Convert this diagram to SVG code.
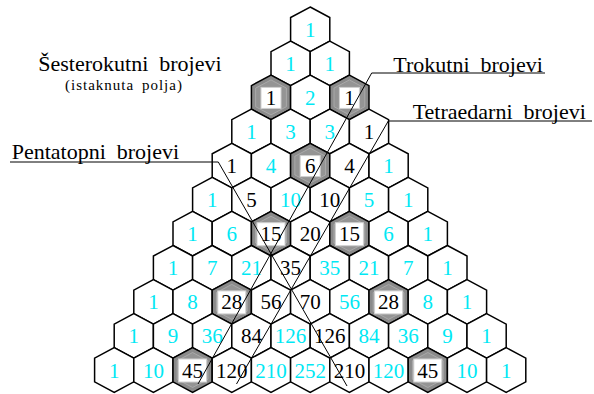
<svg xmlns="http://www.w3.org/2000/svg" xmlns:xlink="http://www.w3.org/1999/xlink" width="594" height="394" viewBox="0 0 594 394">
<style>
.h{fill:#fff;stroke:#000;stroke-width:1.5}
.gh{fill:#8a8a8a;stroke:#000;stroke-width:1.5}
.gi{fill:#949494;stroke:#b0b0b0;stroke-width:0.8}
.wr{fill:#fff;stroke:#d0d0d0;stroke-width:1}
.n{font-family:"Liberation Serif","Times New Roman",serif;font-size:21px;text-anchor:middle}
.c{fill:#00e8f4}
.k{fill:#000}
.lbl{font-family:"Liberation Serif","Times New Roman",serif;font-size:22px;fill:#000;word-spacing:5.5px}
.sub{font-family:"Liberation Serif","Times New Roman",serif;font-size:15px;fill:#000;letter-spacing:1px;word-spacing:3px}
.ld{fill:none;stroke:#000;stroke-width:1}
</style>
<defs>
<path id="hx" d="M0,-22.3L19.6,-11.8L19.6,11.8L0,22.3L-19.6,11.8L-19.6,-11.8Z"/>
<path id="hi" d="M0,-17.5L15.4,-9.3L15.4,9.3L0,17.5L-15.4,9.3L-15.4,-9.3Z"/>
</defs>
<g id="labels">
<text class="lbl" x="38.3" y="71">Šesterokutni brojevi</text>
<text class="sub" x="65" y="90">(istaknuta polja)</text>
<text class="lbl" x="11.7" y="158.5">Pentatopni brojevi</text>
<text class="lbl" x="393.3" y="71.5">Trokutni brojevi</text>
<text class="lbl" x="412.7" y="119">Tetraedarni brojevi</text>
</g>
<g id="nodes">
<g id="n0-0"><use href="#hx" class="h" x="310.2" y="29.3"/><text class="n c" x="310.2" y="36.8">1</text></g>
<g id="n1-0"><use href="#hx" class="h" x="290.6" y="63.4"/><text class="n c" x="290.6" y="70.9">1</text></g>
<g id="n1-1"><use href="#hx" class="h" x="329.8" y="63.4"/><text class="n c" x="329.8" y="70.9">1</text></g>
<g id="n2-0"><use href="#hx" class="gh" x="271.0" y="97.4"/><use href="#hi" class="gi" x="271.0" y="97.4"/><rect class="wr" x="261" y="87.4" width="20" height="21"/><text class="n k" x="271.0" y="104.9">1</text></g>
<g id="n2-1"><use href="#hx" class="h" x="310.2" y="97.4"/><text class="n c" x="310.2" y="104.9">2</text></g>
<g id="n2-2"><use href="#hx" class="gh" x="349.4" y="97.4"/><use href="#hi" class="gi" x="349.4" y="97.4"/><rect class="wr" x="339.4" y="87.4" width="20" height="21"/><text class="n k" x="349.4" y="104.9">1</text></g>
<g id="n3-0"><use href="#hx" class="h" x="251.4" y="131.5"/><text class="n c" x="251.4" y="139.0">1</text></g>
<g id="n3-1"><use href="#hx" class="h" x="290.6" y="131.5"/><text class="n c" x="290.6" y="139.0">3</text></g>
<g id="n3-2"><use href="#hx" class="h" x="329.8" y="131.5"/><text class="n c" x="329.8" y="139.0">3</text></g>
<g id="n3-3"><use href="#hx" class="h" x="369.0" y="131.5"/><text class="n k" x="369.0" y="139.0">1</text></g>
<g id="n4-0"><use href="#hx" class="h" x="231.8" y="165.6"/><text class="n k" x="231.8" y="173.1">1</text></g>
<g id="n4-1"><use href="#hx" class="h" x="271.0" y="165.6"/><text class="n c" x="271.0" y="173.1">4</text></g>
<g id="n4-2"><use href="#hx" class="gh" x="310.2" y="165.6"/><use href="#hi" class="gi" x="310.2" y="165.6"/><rect class="wr" x="300.2" y="155.6" width="20" height="21"/><text class="n k" x="310.2" y="173.1">6</text></g>
<g id="n4-3"><use href="#hx" class="h" x="349.4" y="165.6"/><text class="n k" x="349.4" y="173.1">4</text></g>
<g id="n4-4"><use href="#hx" class="h" x="388.6" y="165.6"/><text class="n c" x="388.6" y="173.1">1</text></g>
<g id="n5-0"><use href="#hx" class="h" x="212.2" y="199.7"/><text class="n c" x="212.2" y="207.2">1</text></g>
<g id="n5-1"><use href="#hx" class="h" x="251.4" y="199.7"/><text class="n k" x="251.4" y="207.2">5</text></g>
<g id="n5-2"><use href="#hx" class="h" x="290.6" y="199.7"/><text class="n c" x="290.6" y="207.2">10</text></g>
<g id="n5-3"><use href="#hx" class="h" x="329.8" y="199.7"/><text class="n k" x="329.8" y="207.2">10</text></g>
<g id="n5-4"><use href="#hx" class="h" x="369.0" y="199.7"/><text class="n c" x="369.0" y="207.2">5</text></g>
<g id="n5-5"><use href="#hx" class="h" x="408.2" y="199.7"/><text class="n c" x="408.2" y="207.2">1</text></g>
<g id="n6-0"><use href="#hx" class="h" x="192.6" y="233.7"/><text class="n c" x="192.6" y="241.2">1</text></g>
<g id="n6-1"><use href="#hx" class="h" x="231.8" y="233.7"/><text class="n c" x="231.8" y="241.2">6</text></g>
<g id="n6-2"><use href="#hx" class="gh" x="271.0" y="233.7"/><use href="#hi" class="gi" x="271.0" y="233.7"/><rect class="wr" x="257" y="222.7" width="28" height="23"/><text class="n k" x="271.0" y="241.2">15</text></g>
<g id="n6-3"><use href="#hx" class="h" x="310.2" y="233.7"/><text class="n k" x="310.2" y="241.2">20</text></g>
<g id="n6-4"><use href="#hx" class="gh" x="349.4" y="233.7"/><use href="#hi" class="gi" x="349.4" y="233.7"/><rect class="wr" x="335.4" y="222.7" width="28" height="23"/><text class="n k" x="349.4" y="241.2">15</text></g>
<g id="n6-5"><use href="#hx" class="h" x="388.6" y="233.7"/><text class="n c" x="388.6" y="241.2">6</text></g>
<g id="n6-6"><use href="#hx" class="h" x="427.8" y="233.7"/><text class="n c" x="427.8" y="241.2">1</text></g>
<g id="n7-0"><use href="#hx" class="h" x="173.0" y="267.8"/><text class="n c" x="173.0" y="275.3">1</text></g>
<g id="n7-1"><use href="#hx" class="h" x="212.2" y="267.8"/><text class="n c" x="212.2" y="275.3">7</text></g>
<g id="n7-2"><use href="#hx" class="h" x="251.4" y="267.8"/><text class="n c" x="251.4" y="275.3">21</text></g>
<g id="n7-3"><use href="#hx" class="h" x="290.6" y="267.8"/><text class="n k" x="290.6" y="275.3">35</text></g>
<g id="n7-4"><use href="#hx" class="h" x="329.8" y="267.8"/><text class="n c" x="329.8" y="275.3">35</text></g>
<g id="n7-5"><use href="#hx" class="h" x="369.0" y="267.8"/><text class="n c" x="369.0" y="275.3">21</text></g>
<g id="n7-6"><use href="#hx" class="h" x="408.2" y="267.8"/><text class="n c" x="408.2" y="275.3">7</text></g>
<g id="n7-7"><use href="#hx" class="h" x="447.4" y="267.8"/><text class="n c" x="447.4" y="275.3">1</text></g>
<g id="n8-0"><use href="#hx" class="h" x="153.4" y="301.9"/><text class="n c" x="153.4" y="309.4">1</text></g>
<g id="n8-1"><use href="#hx" class="h" x="192.6" y="301.9"/><text class="n c" x="192.6" y="309.4">8</text></g>
<g id="n8-2"><use href="#hx" class="gh" x="231.8" y="301.9"/><use href="#hi" class="gi" x="231.8" y="301.9"/><rect class="wr" x="217.8" y="290.9" width="28" height="23"/><text class="n k" x="231.8" y="309.4">28</text></g>
<g id="n8-3"><use href="#hx" class="h" x="271.0" y="301.9"/><text class="n k" x="271.0" y="309.4">56</text></g>
<g id="n8-4"><use href="#hx" class="h" x="310.2" y="301.9"/><text class="n k" x="310.2" y="309.4">70</text></g>
<g id="n8-5"><use href="#hx" class="h" x="349.4" y="301.9"/><text class="n c" x="349.4" y="309.4">56</text></g>
<g id="n8-6"><use href="#hx" class="gh" x="388.6" y="301.9"/><use href="#hi" class="gi" x="388.6" y="301.9"/><rect class="wr" x="374.6" y="290.9" width="28" height="23"/><text class="n k" x="388.6" y="309.4">28</text></g>
<g id="n8-7"><use href="#hx" class="h" x="427.8" y="301.9"/><text class="n c" x="427.8" y="309.4">8</text></g>
<g id="n8-8"><use href="#hx" class="h" x="467.0" y="301.9"/><text class="n c" x="467.0" y="309.4">1</text></g>
<g id="n9-0"><use href="#hx" class="h" x="133.8" y="335.9"/><text class="n c" x="133.8" y="343.4">1</text></g>
<g id="n9-1"><use href="#hx" class="h" x="173.0" y="335.9"/><text class="n c" x="173.0" y="343.4">9</text></g>
<g id="n9-2"><use href="#hx" class="h" x="212.2" y="335.9"/><text class="n c" x="212.2" y="343.4">36</text></g>
<g id="n9-3"><use href="#hx" class="h" x="251.4" y="335.9"/><text class="n k" x="251.4" y="343.4">84</text></g>
<g id="n9-4"><use href="#hx" class="h" x="290.6" y="335.9"/><text class="n c" x="290.6" y="343.4">126</text></g>
<g id="n9-5"><use href="#hx" class="h" x="329.8" y="335.9"/><text class="n k" x="329.8" y="343.4">126</text></g>
<g id="n9-6"><use href="#hx" class="h" x="369.0" y="335.9"/><text class="n c" x="369.0" y="343.4">84</text></g>
<g id="n9-7"><use href="#hx" class="h" x="408.2" y="335.9"/><text class="n c" x="408.2" y="343.4">36</text></g>
<g id="n9-8"><use href="#hx" class="h" x="447.4" y="335.9"/><text class="n c" x="447.4" y="343.4">9</text></g>
<g id="n9-9"><use href="#hx" class="h" x="486.6" y="335.9"/><text class="n c" x="486.6" y="343.4">1</text></g>
<g id="n10-0"><use href="#hx" class="h" x="114.2" y="370.0"/><text class="n c" x="114.2" y="377.5">1</text></g>
<g id="n10-1"><use href="#hx" class="h" x="153.4" y="370.0"/><text class="n c" x="153.4" y="377.5">10</text></g>
<g id="n10-2"><use href="#hx" class="gh" x="192.6" y="370.0"/><use href="#hi" class="gi" x="192.6" y="370.0"/><rect class="wr" x="178.6" y="359" width="28" height="23"/><text class="n k" x="192.6" y="377.5">45</text></g>
<g id="n10-3"><use href="#hx" class="h" x="231.8" y="370.0"/><text class="n k" x="231.8" y="377.5">120</text></g>
<g id="n10-4"><use href="#hx" class="h" x="271.0" y="370.0"/><text class="n c" x="271.0" y="377.5">210</text></g>
<g id="n10-5"><use href="#hx" class="h" x="310.2" y="370.0"/><text class="n c" x="310.2" y="377.5">252</text></g>
<g id="n10-6"><use href="#hx" class="h" x="349.4" y="370.0"/><text class="n k" x="349.4" y="377.5">210</text></g>
<g id="n10-7"><use href="#hx" class="h" x="388.6" y="370.0"/><text class="n c" x="388.6" y="377.5">120</text></g>
<g id="n10-8"><use href="#hx" class="gh" x="427.8" y="370.0"/><use href="#hi" class="gi" x="427.8" y="370.0"/><rect class="wr" x="413.8" y="359" width="28" height="23"/><text class="n k" x="427.8" y="377.5">45</text></g>
<g id="n10-9"><use href="#hx" class="h" x="467.0" y="370.0"/><text class="n c" x="467.0" y="377.5">10</text></g>
<g id="n10-10"><use href="#hx" class="h" x="506.2" y="370.0"/><text class="n c" x="506.2" y="377.5">1</text></g>
</g>
<g id="connectors">
<polyline class="ld" points="545,73 371.7,73 198,384"/>
<polyline class="ld" points="592,121 388.3,121 236.5,384"/>
<polyline class="ld" points="10,162 218.3,162 347,386"/>
</g>
</svg>
